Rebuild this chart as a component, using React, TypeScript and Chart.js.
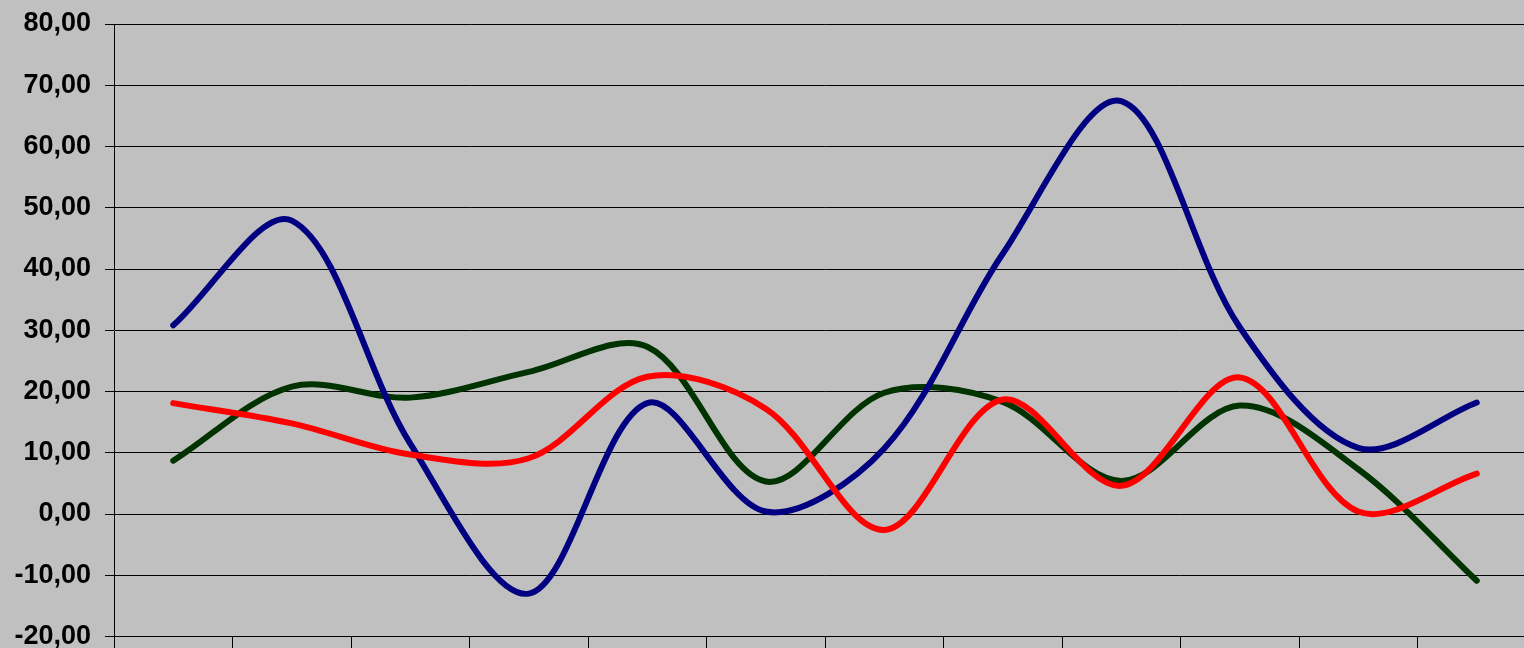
import React, { useEffect, useRef } from "react";
import { Chart, registerables } from "chart.js";

Chart.register(...registerables);

const categories = ["1", "2", "3", "4", "5", "6", "7", "8", "9", "10", "11", "12"];
const navySeries = [30.8, 47.9, 11.5, -13.0, 18.1, 0.4, 10.7, 42.5, 67.4, 30.5, 10.8, 18.2];
const greenSeries = [8.7, 20.8, 19.0, 23.2, 27.3, 5.3, 19.8, 18.3, 5.4, 17.7, 7.3, -10.9];
const redSeries = [18.1, 14.8, 9.7, 9.1, 22.4, 17.2, -2.6, 18.7, 4.6, 22.3, 0.4, 6.6];
const yMin = -20;
const yMax = 80;
const yStep = 10;

const CANVAS_W = 1560;
const CANVAS_H = 700;

export default function App() {
  const ref = useRef<HTMLCanvasElement | null>(null);

  useEffect(() => {
    const canvas = ref.current;
    if (!canvas) return;
    const common = {
      fill: false,
      pointRadius: 0,
      pointHoverRadius: 0,
      borderWidth: 6,
      tension: 0.33,
      borderCapStyle: "round" as const,
      borderJoinStyle: "round" as const,
    };
    const chart = new Chart(canvas, {
      type: "line",
      data: {
        labels: categories,
        datasets: [
          { ...common, label: "C", data: redSeries, borderColor: "#ff0000", backgroundColor: "#ff0000" },
          { ...common, label: "A", data: navySeries, borderColor: "#000080", backgroundColor: "#000080" },
          { ...common, label: "B", data: greenSeries, borderColor: "#003300", backgroundColor: "#003300" },
        ],
      },
      options: {
        animation: false,
        responsive: false,
        devicePixelRatio: 1,
        layout: { padding: { top: 24, right: 24, left: 0, bottom: 0 } },
        plugins: {
          legend: { display: false },
          tooltip: { enabled: false },
          title: { display: false },
        },
        scales: {
          x: {
            type: "category",
            offset: true,
            grid: {
              offset: true,
              drawOnChartArea: false,
              drawTicks: true,
              tickLength: 20,
              color: "#000000",
              lineWidth: 1,
            },
            border: { display: true, color: "#000000", width: 1 },
            ticks: { display: false },
            afterFit: (s: any) => {
              s.height = 63.5;
            },
          },
          y: {
            min: yMin,
            max: yMax,
            grid: {
              color: "#000000",
              lineWidth: 1,
              tickLength: 9,
              drawTicks: true,
            },
            border: { display: true, color: "#000000", width: 1 },
            ticks: {
              stepSize: yStep,
              padding: 14,
              color: "#000000",
              font: { family: "'Liberation Sans', Arial, sans-serif", size: 27, weight: "bold", lineHeight: 1 },
              callback: (v: any) => Number(v).toFixed(2).replace(".", ","),
            },
            afterFit: (s: any) => {
              s.width = 114;
              s.paddingTop = 0;
              s.paddingBottom = 0;
            },
          },
        },
      },
    });
    return () => chart.destroy();
  }, []);

  return (
    <div
      style={{
        position: "fixed",
        left: 0,
        top: 0,
        width: CANVAS_W,
        height: CANVAS_H,
        background: "#c0c0c0",
      }}
    >
      <canvas ref={ref} width={CANVAS_W} height={CANVAS_H} style={{ width: CANVAS_W, height: CANVAS_H, display: "block" }} />
    </div>
  );
}
